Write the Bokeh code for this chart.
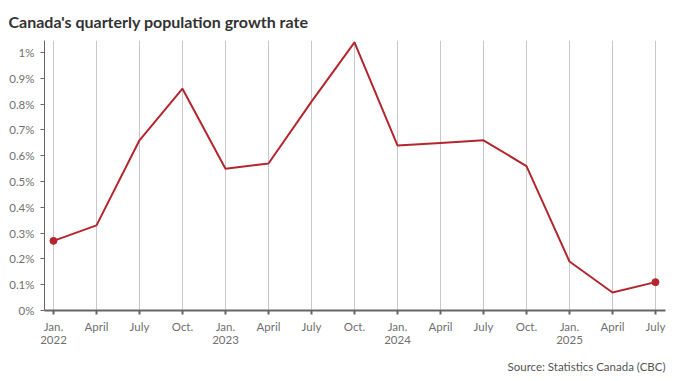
from bokeh.plotting import figure
from bokeh.models import (FixedTicker, CustomJSTickFormatter, Title, Range1d, ColumnDataSource)
from bokeh.embed import file_html
from bokeh.resources import INLINE

quarters = ["Jan.\n2022", "April", "July", "Oct.", "Jan.\n2023", "April", "July", "Oct.",
            "Jan.\n2024", "April", "July", "Oct.", "Jan.\n2025", "April", "July"]
growth_pct = [0.27, 0.33, 0.66, 0.86, 0.55, 0.57, 0.81, 1.04, 0.64, 0.65, 0.66, 0.56, 0.19, 0.07, 0.11]
y_ticks = [0, 0.1, 0.2, 0.3, 0.4, 0.5, 0.6, 0.7, 0.8, 0.9, 1.0]

idx = list(range(len(quarters)))
src = ColumnDataSource(dict(x=idx, y=growth_pct))
ends = ColumnDataSource(dict(x=[idx[0], idx[-1]], y=[growth_pct[0], growth_pct[-1]]))

FONT = "Lato"
RED = "#b3262e"

p = figure(width=666, height=381, output_backend="svg", toolbar_location=None,
           x_range=Range1d(-0.209, 14.233), y_range=Range1d(0, 1.047),
           min_border_left=44, min_border_right=1, min_border_top=40, min_border_bottom=71)
p.outline_line_color = None
p.background_fill_color = "white"

p.title = Title(text="Canada's quarterly population growth rate", align="left", offset=-36,
                text_font=FONT, text_font_size="16px", text_font_style="bold",
                text_color="#333333", standoff=19)
p.add_layout(Title(text="Source: Statistics Canada (CBC)", align="right",
                   text_font=FONT, text_font_size="11.5px", text_font_style="normal",
                   text_color="#555555", standoff=18), "below")

p.line("x", "y", source=src, line_color=RED, line_width=2)
p.scatter("x", "y", source=ends, size=7, fill_color=RED, line_color=RED)

p.xaxis.ticker = FixedTicker(ticks=idx)
p.xaxis.major_label_overrides = {i: q for i, q in enumerate(quarters)}
p.xaxis.axis_line_color = "#666666"
p.xaxis.axis_line_width = 2
p.xaxis.major_tick_line_color = "#666666"
p.xaxis.major_tick_line_width = 2
p.xaxis.major_tick_in = 0
p.xaxis.major_tick_out = 4
p.xaxis.minor_tick_line_color = None
p.xaxis.major_label_standoff = 5
p.xaxis.major_label_text_line_height = 1.0

p.yaxis.ticker = FixedTicker(ticks=y_ticks)
p.yaxis.formatter = CustomJSTickFormatter(code="return (Math.round(tick*10)/10) + '%';")
p.yaxis.axis_line_color = "#666666"
p.yaxis.axis_line_width = 1
p.yaxis.major_tick_line_color = "#666666"
p.yaxis.major_tick_in = 0
p.yaxis.major_tick_out = 4
p.yaxis.minor_tick_line_color = None
p.yaxis.major_label_standoff = 6

for ax in (p.xaxis, p.yaxis):
    ax.major_label_text_font = FONT
    ax.major_label_text_font_size = "11.5px"
    ax.major_label_text_color = "#707070"

p.xgrid.grid_line_color = "#c5c9c9"
p.xgrid.grid_line_width = 1
p.ygrid.grid_line_color = None

open("out.html", "w").write(file_html(p, INLINE))
